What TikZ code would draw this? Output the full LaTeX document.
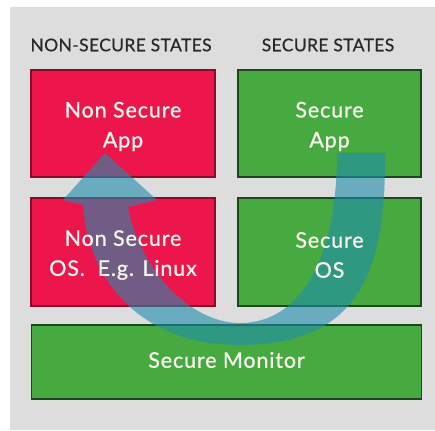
\documentclass[tikz,border=0pt]{standalone}
\usepackage{fontspec}
\setmainfont{Lato}
\newfontfamily\capfont{Lato}[FakeBold=0.9, LetterSpace=4]
\newfontfamily\headfont{Lato}[FakeBold=0.5, LetterSpace=2]
\definecolor{panelgray}{RGB}{221,221,221}
\definecolor{nsred}{RGB}{236,22,76}
\definecolor{nsredline}{RGB}{140,12,40}
\definecolor{sgreen}{RGB}{70,170,64}
\definecolor{sgreenline}{RGB}{28,70,28}
\definecolor{ribbon}{RGB}{30,140,172}
\definecolor{hdrtext}{RGB}{40,40,40}
\definecolor{boxtext}{RGB}{246,246,236}
\tikzset{
  nsbox/.style={rectangle, fill=nsred, draw=nsredline, line width=1.3pt, inner sep=0pt},
  sbox/.style={rectangle, fill=sgreen, draw=sgreenline, line width=1.3pt, inner sep=0pt},
  boxlabel/.style={text=boxtext, align=center, font=\capfont\fontsize{21.5}{30}\selectfont},
  header/.style={text=hdrtext, font=\headfont\fontsize{17.5}{20}\selectfont},
  worldswitch/.style={fill=ribbon, fill opacity=0.6}
}
\begin{document}
\begin{tikzpicture}[x=1pt,y=-1pt]
\useasboundingbox (0,0) rectangle (435,430);
% grey panel behind everything
\fill[panelgray] (10,7) rectangle (435,430);

% column headings
\node[header] (hns) at (121,45) {NON-SECURE STATES};
\node[header] (hs) at (328,45) {SECURE STATES};

% the five blocks
\node[nsbox, minimum width=184pt, minimum height=107pt] (nsapp) at (123,123.5) {};
\node[sbox, minimum width=183pt, minimum height=107pt] (sapp) at (329.5,123.5) {};
\node[nsbox, minimum width=184pt, minimum height=108pt] (nsos) at (123,252) {};
\node[sbox, minimum width=183pt, minimum height=108pt] (sos) at (329.5,252) {};
\node[sbox, minimum width=390pt, minimum height=74pt] (mon) at (226.5,362) {};

% translucent U-shaped ribbon arrow from the secure side back to the normal side
\fill[worldswitch]
  (337,153) -- (385,153)
  .. controls (386,270) and (360,345) .. (240,345)
  .. controls (140,345) and (88,280) .. (83,205)
  -- (63,200) -- (105,153) -- (157,200) -- (128,207)
  .. controls (140,270) and (190,323) .. (240,323)
  .. controls (300,323) and (337,260) .. (337,153) -- cycle;

% block captions, set above the ribbon
\node[boxlabel, yshift=-3pt] (nsappT) at (nsapp.center) {Non Secure\\App};
\node[boxlabel, yshift=-3pt] (sappT) at (sapp.center) {Secure\\App};
\node[boxlabel, yshift=-3pt] (nsosT) at (nsos.center) {Non Secure\\OS.\ \ E.g. Linux};
\node[boxlabel, yshift=-3pt] (sosT) at (sos.center) {Secure\\OS};
\node[boxlabel, yshift=2pt] (monT) at (mon.center) {Secure Monitor};
\end{tikzpicture}
\end{document}
